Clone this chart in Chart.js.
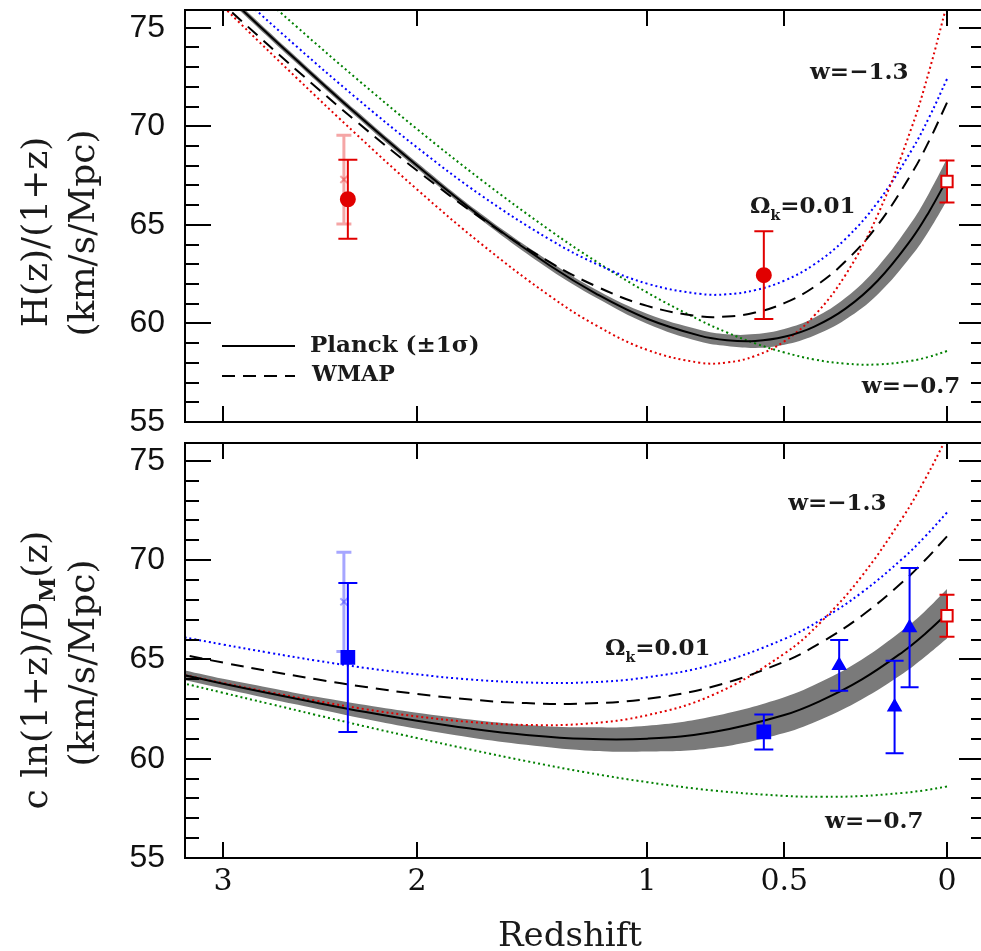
<!DOCTYPE html>
<html>
<head>
<meta charset="utf-8">
<script src="https://cdn.jsdelivr.net/npm/chart.js@4.4.1/dist/chart.umd.min.js"></script>
<style>
  html, body { margin: 0; padding: 0; background: #fff; overflow: hidden; }
  #wrap { position: relative; width: 981px; height: 951px; overflow: hidden; background: #fff; }
  canvas { position: absolute; left: 0; }
  #hz { top: 0; }
  #dm { top: 430px; }
</style>
</head>
<body>
<div id="wrap">
  <canvas id="hz" width="1000" height="440"></canvas>
  <canvas id="dm" width="1000" height="530"></canvas>
</div>
<script>
// ---- model curves, H(z)/(1+z) in km/s/Mpc ----
var zTop      = [0, 0.05, 0.1, 0.2, 0.3, 0.4, 0.5, 0.6, 0.7, 0.8, 1.0, 1.2, 1.4, 1.7, 2.0, 2.3, 2.6, 2.9, 3.25];
var hPlanck   = [67.30, 65.67, 64.29, 62.18, 60.75, 59.84, 59.32, 59.11, 59.15, 59.38, 60.24, 61.48, 62.95, 65.40, 68.01, 70.66, 73.32, 75.95, 78.97];
var hPlanckSd = [1.05, 0.95, 0.85, 0.7, 0.55, 0.45, 0.4, 0.35, 0.3, 0.3, 0.25, 0.2, 0.2, 0.15, 0.15, 0.15, 0.15, 0.15, 0.15];
var hWmap     = [71.20, 69.26, 67.61, 65.00, 63.15, 61.86, 61.03, 60.55, 60.35, 60.36, 60.89, 61.86, 63.12, 65.33, 67.76, 70.27, 72.82, 75.36, 78.29];
var hW13      = [76.20, 72.80, 69.94, 65.53, 62.46, 60.40, 59.09, 58.35, 58.02, 58.01, 58.66, 59.87, 61.41, 64.03, 66.80, 69.62, 72.42, 75.17, 78.31];
var hOk       = [72.40, 70.45, 68.79, 66.16, 64.29, 63.00, 62.17, 61.69, 61.48, 61.50, 62.02, 63.00, 64.27, 66.49, 68.93, 71.46, 74.02, 76.58, 79.53];
var hW07      = [58.60, 58.31, 58.11, 57.92, 57.96, 58.17, 58.53, 58.99, 59.54, 60.17, 61.57, 63.11, 64.74, 67.28, 69.86, 72.45, 75.02, 77.56, 80.46];

// ---- model curves, c ln(1+z)/D_M(z) ----
var zBot      = [0, 0.0625, 0.125, 0.25, 0.375, 0.5, 0.75, 1.0, 1.25, 1.5, 1.75, 2.0, 2.25, 2.5, 2.75, 3.0, 3.25];
var dPlanck   = [67.30, 66.27, 65.39, 63.98, 62.95, 62.20, 61.34, 61.01, 61.00, 61.20, 61.52, 61.91, 62.35, 62.82, 63.30, 63.78, 64.27];
var dPlanckSd = [1.25, 1.15, 1.1, 1.0, 0.95, 0.9, 0.8, 0.65, 0.58, 0.5, 0.45, 0.4, 0.35, 0.3, 0.28, 0.25, 0.25];
var dWmap     = [71.20, 69.98, 68.92, 67.19, 65.88, 64.89, 63.64, 63.01, 62.78, 62.80, 62.98, 63.26, 63.61, 64.00, 64.41, 64.84, 65.28];
var dW13      = [76.20, 74.04, 72.18, 69.18, 66.94, 65.29, 63.22, 62.19, 61.76, 61.70, 61.85, 62.13, 62.49, 62.91, 63.35, 63.81, 64.27];
var dOk       = [72.40, 71.17, 70.10, 68.36, 67.03, 66.03, 64.75, 64.10, 63.84, 63.84, 63.99, 64.25, 64.57, 64.94, 65.34, 65.75, 66.17];
var dW07      = [58.60, 58.41, 58.28, 58.12, 58.08, 58.13, 58.40, 58.82, 59.32, 59.88, 60.46, 61.04, 61.62, 62.20, 62.77, 63.32, 63.86];

// ---- measurements (value, symmetric 1 sigma) ----
var hzDotZ = [2.34, 0.57];   var hzDotV = [66.3, 62.45];  var hzDotE = [2.0, 2.23];
var hzXZ   = [2.36];         var hzXV   = [67.3];         var hzXE   = [2.25];
var dmSqZ  = [2.34, 0.57];   var dmSqV  = [65.1, 61.35];  var dmSqE  = [3.75, 0.88];
var dmXZ   = [2.36];         var dmXV   = [67.9];         var dmXE   = [2.5];
var dmTriZ = [0.32, 0.15, 0.106]; var dmTriV = [64.7, 62.6, 66.6]; var dmTriE = [1.28, 2.33, 3.0];
var h0Z    = [0];            var h0V    = [67.2];         var h0E    = [1.06];

// ---- axes ----
var xTickZ = [3, 2, 1, 0.5, 0];
var xTickLabels = ['3', '2', '1', '0.5', '0'];
var yTicks = [55, 60, 65, 70, 75];

var RED = 'rgb(225,0,0)', BLUE = 'rgb(0,0,255)', GREEN = 'rgb(0,128,0)';
var SERIF = '"DejaVu Serif", serif';

// redshift axis is linear in sqrt(1+z)
function ux(z) { return Math.sqrt(1 + z); }
function pts(zs, vs, off) {
  return zs.map(function (z, i) { return { x: ux(z), y: vs[i] + (off ? off[i] : 0) }; });
}
function neg(a) { return a.map(function (v) { return -v; }); }

function curve(zs, vs, color, dash, order) {
  return { data: pts(zs, vs), borderColor: color, borderWidth: 2, borderDash: dash,
           pointRadius: 0, tension: 0.4, fill: false, order: order };
}
function band(zs, vs, sd) {
  return [
    { data: pts(zs, vs, sd), borderWidth: 0, pointRadius: 0, tension: 0.4,
      backgroundColor: 'rgb(122,122,122)', fill: '+1', order: 10 },
    { data: pts(zs, vs, neg(sd)), borderWidth: 0, pointRadius: 0, tension: 0.4, fill: false, order: 10 }
  ];
}
function marks(zs, vs, es, style, o) {
  return { data: pts(zs, vs), err: es, showLine: false, order: 0,
           pointStyle: style, pointRadius: o.r, borderWidth: 2,
           borderColor: o.stroke, backgroundColor: o.fill,
           barColor: o.bar || o.stroke, barWidth: o.bw || 2, cap: o.cap };
}

// Ω_k with a subscript, as text runs
var OMK = [['Ω'], ['k', 1], ['=0.01']];
var panels = {
  hz: {
    notes: [ { z: 0.414, v: 72.42, runs: [['w=−1.3']] },
             { z: 0.618, v: 65.62, runs: OMK },
             { z: 0.249, v: 56.45, runs: [['w=−0.7']] } ],
    yTitle: [ { cx: 38, cy: 232, runs: [['H(z)/(1+z)']] },
              { cx: 85, cy: 233, runs: [['(km/s/Mpc)']] } ],
    legend: true
  },
  dm: {
    notes: [ { z: 0.487, v: 72.52, runs: [['w=−1.3']] },
             { z: 1.168, v: 65.22, runs: OMK },
             { z: 0.365, v: 56.49, runs: [['w=−0.7']] } ],
    yTitle: [ { cx: 38, cy: 240, runs: [['c ln(1+z)/D'], ['M', 1], ['(z)']] },
              { cx: 85, cy: 233, runs: [['(km/s/Mpc)']] } ],
    xTitle: { cx: 570, cy: 507, text: 'Redshift' }
  }
};

function runFont(size, sub, weight) {
  var w = weight ? weight + ' ' : '';
  return sub ? 'bold ' + Math.round(size * 0.6) + 'px ' + SERIF : w + size + 'px ' + SERIF;
}
function drawRuns(ctx, runs, x, y, size, align, weight) {
  var w = 0;
  runs.forEach(function (r) { ctx.font = runFont(size, r[1], weight); w += ctx.measureText(r[0]).width; });
  var cx = align === 'center' ? x - w / 2 : x;
  ctx.textAlign = 'left';
  runs.forEach(function (r) {
    ctx.font = runFont(size, r[1], weight);
    ctx.fillText(r[0], cx, r[1] ? y + size * 0.3 : y);
    cx += ctx.measureText(r[0]).width;
  });
}

var panelPlugin = {
  id: 'panel',
  beforeDatasetDraw: function (chart, args) {
    var ds = chart.data.datasets[args.index];
    if (!ds.err) return;
    var ctx = chart.ctx, x = chart.scales.x, y = chart.scales.y;
    ctx.save();
    ctx.strokeStyle = ds.barColor;
    ctx.lineWidth = ds.barWidth;
    ds.data.forEach(function (p, i) {
      var px = x.getPixelForValue(p.x);
      var lo = y.getPixelForValue(p.y - ds.err[i]);
      var hi = y.getPixelForValue(p.y + ds.err[i]);
      ctx.beginPath();
      ctx.moveTo(px, lo); ctx.lineTo(px, hi);
      ctx.moveTo(px - ds.cap, lo); ctx.lineTo(px + ds.cap, lo);
      ctx.moveTo(px - ds.cap, hi); ctx.lineTo(px + ds.cap, hi);
      ctx.stroke();
    });
    ctx.restore();
  },
  afterDatasetsDraw: function (chart) {
    var ctx = chart.ctx, a = chart.chartArea, x = chart.scales.x, y = chart.scales.y;
    var cfg = panels[chart.canvas.id];
    ctx.save();
    // frame with inward ticks on all four sides
    ctx.strokeStyle = '#000';
    ctx.lineWidth = 2;
    ctx.strokeRect(a.left, a.top, a.right - a.left, a.bottom - a.top);
    ctx.beginPath();
    for (var v = 55; v <= 75; v++) {
      var py = Math.round(y.getPixelForValue(v));
      var len = v % 5 === 0 ? 26 : 14;
      ctx.moveTo(a.left, py); ctx.lineTo(a.left + len, py);
      ctx.moveTo(a.right, py); ctx.lineTo(a.right - len, py);
    }
    xTickZ.forEach(function (z) {
      var px = Math.round(x.getPixelForValue(ux(z)));
      ctx.moveTo(px, a.top); ctx.lineTo(px, a.top + 16);
      ctx.moveTo(px, a.bottom); ctx.lineTo(px, a.bottom - 16);
    });
    ctx.stroke();

    ctx.fillStyle = '#1a1a1a';
    ctx.textBaseline = 'alphabetic';
    cfg.notes.forEach(function (n) {
      drawRuns(ctx, n.runs, x.getPixelForValue(ux(n.z)), y.getPixelForValue(n.v), 23, 'left', 'bold');
    });

    if (cfg.legend) {
      var lx = a.left + 37;
      ctx.lineWidth = 2;
      ctx.beginPath(); ctx.moveTo(lx, 346); ctx.lineTo(lx + 73, 346); ctx.stroke();
      ctx.setLineDash([13, 8]);
      ctx.beginPath(); ctx.moveTo(lx, 376); ctx.lineTo(lx + 73, 376); ctx.stroke();
      ctx.setLineDash([]);
      ctx.textBaseline = 'middle';
      drawRuns(ctx, [['Planck (±1σ)']], lx + 88, 346, 23, 'left', 'bold');
      drawRuns(ctx, [['WMAP']], lx + 90, 375, 22, 'left', 'bold');
    }

    ctx.textBaseline = 'middle';
    cfg.yTitle.forEach(function (t) {
      ctx.save();
      ctx.translate(t.cx, t.cy);
      ctx.rotate(-Math.PI / 2);
      drawRuns(ctx, t.runs, 0, 0, 36, 'center');
      ctx.restore();
    });
    if (cfg.xTitle) {
      drawRuns(ctx, [[cfg.xTitle.text]], cfg.xTitle.cx, cfg.xTitle.cy, 34, 'center');
    }
    ctx.restore();
  }
};

function noPad(s) { s.paddingTop = 0; s.paddingBottom = 0; s.paddingLeft = 0; s.paddingRight = 0; }

function makeChart(id, datasets, padTop, padBottom, xHeight) {
  return new Chart(document.getElementById(id), {
    type: 'line',
    data: { datasets: datasets },
    plugins: [panelPlugin],
    options: {
      responsive: false,
      animation: false,
      events: [],
      layout: { padding: { top: padTop, right: 15, bottom: padBottom, left: 0 } },
      plugins: { legend: { display: false }, tooltip: { enabled: false } },
      scales: {
        x: {
          type: 'linear', reverse: true, min: 0.9475, max: 2.0525,
          display: xHeight > 0,
          grid: { display: false, drawTicks: false }, border: { display: false },
          afterBuildTicks: function (s) { s.ticks = xTickZ.map(function (z) { return { value: ux(z) }; }); },
          afterFit: function (s) { s.height = xHeight; noPad(s); },
          ticks: { autoSkip: false, maxRotation: 0, padding: 6, color: '#111',
                   font: { family: SERIF, size: 30 },
                   callback: function (v, i) { return xTickLabels[i]; } }
        },
        y: {
          min: 55, max: 75.9,
          grid: { display: false, drawTicks: false }, border: { display: false },
          afterBuildTicks: function (s) { s.ticks = yTicks.map(function (v) { return { value: v }; }); },
          afterFit: function (s) { s.width = 185; noPad(s); },
          ticks: { padding: 20, color: '#111', font: { family: '"Liberation Sans", Arial, sans-serif', size: 32 } }
        }
      }
    }
  });
}

var topSets = [
  marks(hzDotZ, hzDotV, hzDotE, 'circle', { r: 7, stroke: RED, fill: RED, cap: 9.5 }),
  marks(hzXZ, hzXV, hzXE, 'crossRot', { r: 5, stroke: 'rgba(225,0,0,0.35)', fill: 'rgba(0,0,0,0)', bw: 3, cap: 7.5 }),
  marks(h0Z, h0V, h0E, 'rect', { r: 8, stroke: RED, fill: '#fff', cap: 7.5 }),
  curve(zTop, hPlanck, '#000', [], 1),
  curve(zTop, hWmap, '#000', [13, 8], 2),
  curve(zTop, hW13, RED, [2, 3], 3),
  curve(zTop, hOk, BLUE, [2, 3], 3),
  curve(zTop, hW07, GREEN, [2, 3], 3)
].concat(band(zTop, hPlanck, hPlanckSd));

var botSets = [
  marks(dmSqZ, dmSqV, dmSqE, 'rect', { r: 9, stroke: BLUE, fill: BLUE, cap: 9.5 }),
  marks(dmXZ, dmXV, dmXE, 'crossRot', { r: 5, stroke: 'rgba(0,0,255,0.35)', fill: 'rgba(0,0,0,0)', bw: 3, cap: 7.5 }),
  marks(dmTriZ, dmTriV, dmTriE, 'triangle', { r: 7, stroke: BLUE, fill: BLUE, cap: 9 }),
  marks(h0Z, h0V, h0E, 'rect', { r: 8, stroke: RED, fill: '#fff', cap: 7.5 }),
  curve(zBot, dPlanck, '#000', [], 1),
  curve(zBot, dWmap, '#000', [13, 8], 2),
  curve(zBot, dW13, RED, [2, 3], 3),
  curve(zBot, dOk, BLUE, [2, 3], 3),
  curve(zBot, dW07, GREEN, [2, 3], 3)
].concat(band(zBot, dPlanck, dPlanckSd));

makeChart('hz', topSets, 7, 18, 0);
makeChart('dm', botSets, 13, 0, 102);
</script>
</body>
</html>
